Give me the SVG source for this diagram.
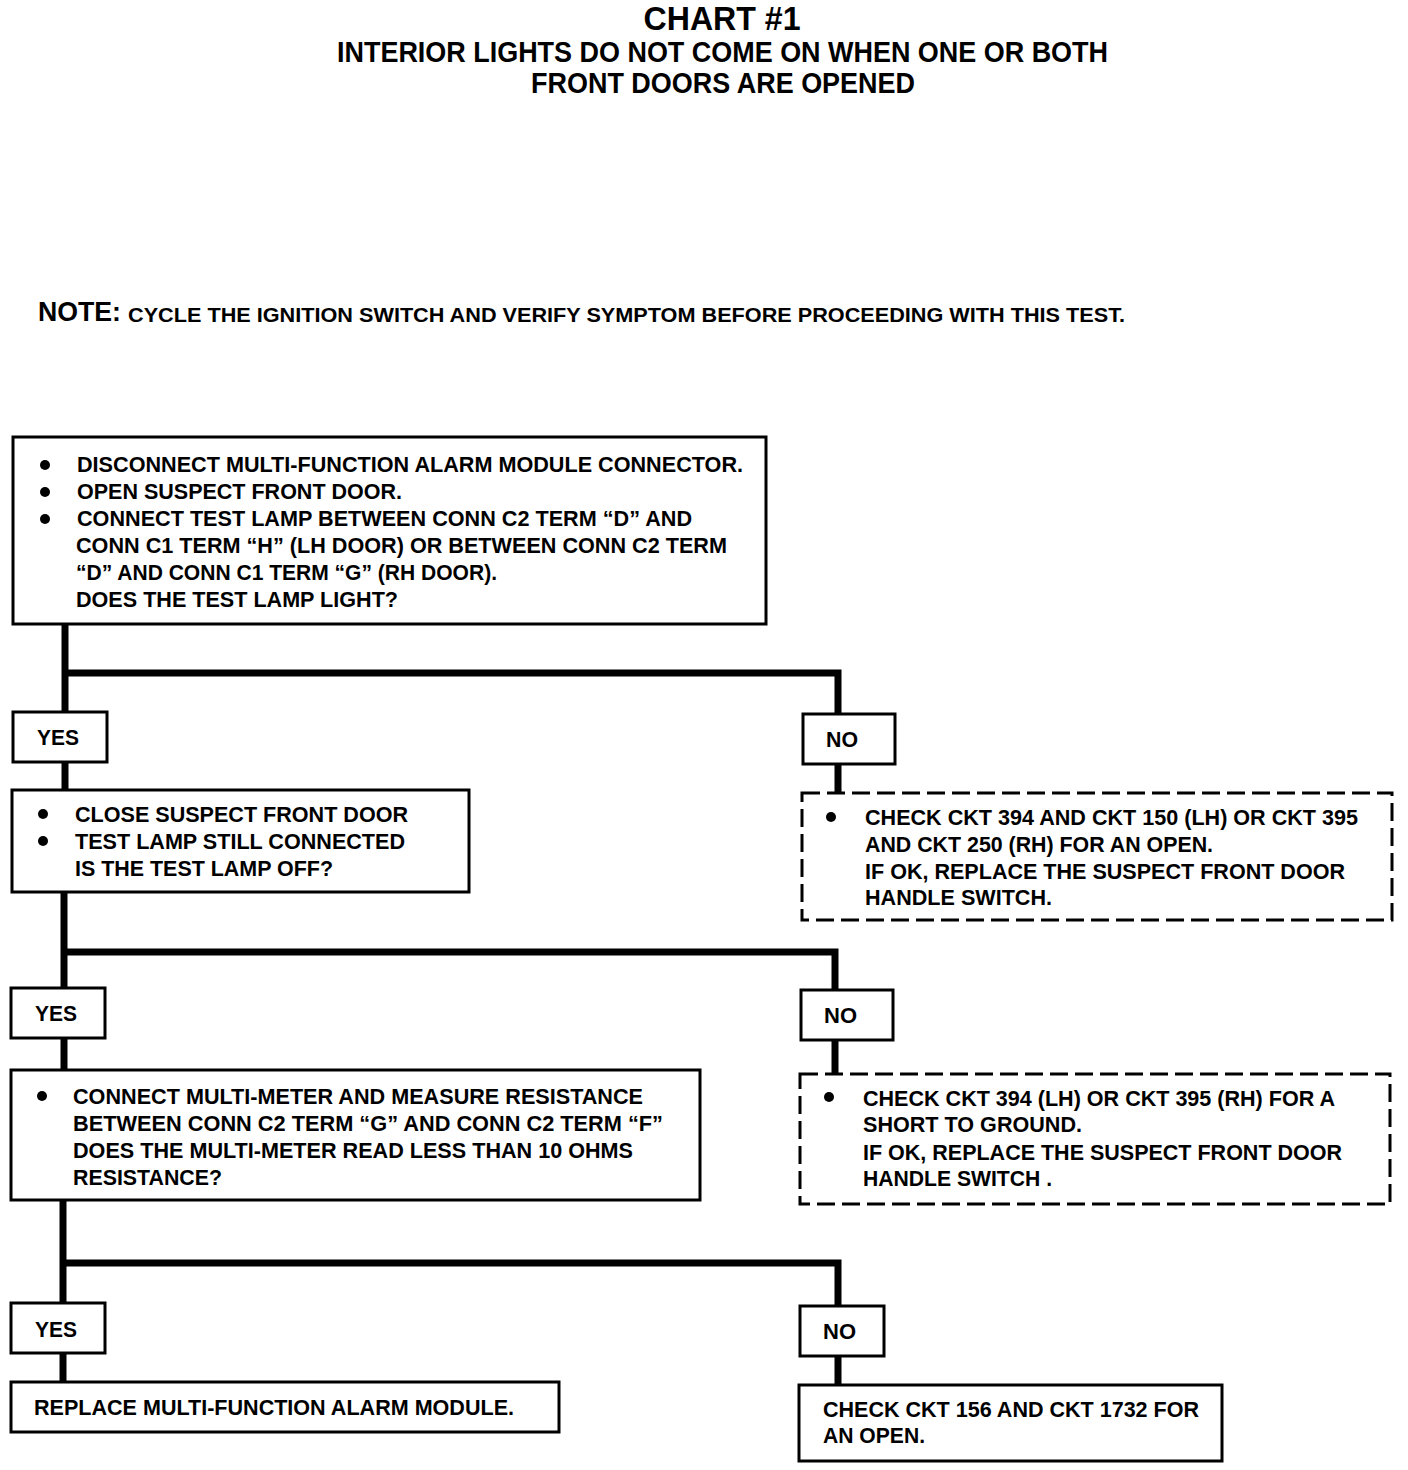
<svg xmlns="http://www.w3.org/2000/svg" width="1408" height="1470" viewBox="0 0 1408 1470">
<style>
text{font-family:"Liberation Sans",Arial,sans-serif;font-weight:bold;fill:#000}
.t{font-size:22px}
.box{fill:#fff;stroke:#000;stroke-width:3}
.dash{fill:#fff;stroke:#000;stroke-width:3;stroke-dasharray:18 7}
.con{fill:none;stroke:#000;stroke-width:7}
.dot{fill:#000}
</style>
<rect width="1408" height="1470" fill="#fff"/>
<g id="title">
<text x="722" y="30" font-size="34" text-anchor="middle" textLength="157" lengthAdjust="spacingAndGlyphs">CHART #1</text>
<text x="337" y="62" font-size="29" textLength="771" lengthAdjust="spacingAndGlyphs">INTERIOR LIGHTS DO NOT COME ON WHEN ONE OR BOTH</text>
<text x="531" y="93" font-size="29" textLength="384" lengthAdjust="spacingAndGlyphs">FRONT DOORS ARE OPENED</text>
</g>
<g id="note">
<text x="38" y="321" font-size="28" textLength="83" lengthAdjust="spacingAndGlyphs">NOTE:</text>
<text x="128" y="322" font-size="21" textLength="997" lengthAdjust="spacingAndGlyphs">CYCLE THE IGNITION SWITCH AND VERIFY SYMPTOM BEFORE PROCEEDING WITH THIS TEST.</text>
</g>
<g id="connectors">
<polyline class="con" points="65,624 65,713"/>
<polyline class="con" points="65,673 838,673 838,714"/>
<polyline class="con" points="65,762 65,790"/>
<polyline class="con" points="838,764 838,793"/>
<polyline class="con" points="64,892 64,988"/>
<polyline class="con" points="64,952 835,952 835,990"/>
<polyline class="con" points="64,1038 64,1070"/>
<polyline class="con" points="835,1040 835,1074"/>
<polyline class="con" points="63,1200 63,1303"/>
<polyline class="con" points="63,1263 838,1263 838,1306"/>
<polyline class="con" points="63,1353 63,1382"/>
<polyline class="con" points="838,1356 838,1385"/>
</g>
<g id="box1">
<rect class="box" x="13" y="437" width="753" height="187"/>
<circle class="dot" cx="45" cy="465" r="5"/>
<circle class="dot" cx="45" cy="492" r="5"/>
<circle class="dot" cx="45" cy="519" r="5"/>
<text class="t" x="77" y="472" textLength="666" lengthAdjust="spacingAndGlyphs">DISCONNECT MULTI-FUNCTION ALARM MODULE CONNECTOR.</text>
<text class="t" x="77" y="499" textLength="325" lengthAdjust="spacingAndGlyphs">OPEN SUSPECT FRONT DOOR.</text>
<text class="t" x="77" y="526" textLength="615" lengthAdjust="spacingAndGlyphs">CONNECT TEST LAMP BETWEEN CONN C2 TERM “D” AND</text>
<text class="t" x="76" y="553" textLength="651" lengthAdjust="spacingAndGlyphs">CONN C1 TERM “H” (LH DOOR) OR BETWEEN CONN C2 TERM</text>
<text class="t" x="76" y="580" textLength="421" lengthAdjust="spacingAndGlyphs">“D” AND CONN C1 TERM “G” (RH DOOR).</text>
<text class="t" x="76" y="607" textLength="322" lengthAdjust="spacingAndGlyphs">DOES THE TEST LAMP LIGHT?</text>
</g>
<g id="yes1">
<rect class="box" x="13" y="712" width="94" height="50"/>
<text class="t" x="37" y="745" textLength="42" lengthAdjust="spacingAndGlyphs">YES</text>
</g>
<g id="no1">
<rect class="box" x="803" y="714" width="92" height="50"/>
<text class="t" x="826" y="747" textLength="32" lengthAdjust="spacingAndGlyphs">NO</text>
</g>
<g id="box2">
<rect class="box" x="12" y="790" width="457" height="102"/>
<circle class="dot" cx="43" cy="814" r="5"/>
<circle class="dot" cx="43" cy="841" r="5"/>
<text class="t" x="75" y="822" textLength="333" lengthAdjust="spacingAndGlyphs">CLOSE SUSPECT FRONT DOOR</text>
<text class="t" x="75" y="849" textLength="330" lengthAdjust="spacingAndGlyphs">TEST LAMP STILL CONNECTED</text>
<text class="t" x="75" y="876" textLength="258" lengthAdjust="spacingAndGlyphs">IS THE TEST LAMP OFF?</text>
</g>
<g id="dash1">
<rect class="dash" x="802" y="793" width="590" height="127"/>
<circle class="dot" cx="831" cy="817" r="5"/>
<text class="t" x="865" y="825" textLength="493" lengthAdjust="spacingAndGlyphs">CHECK CKT 394 AND CKT 150 (LH) OR CKT 395</text>
<text class="t" x="865" y="852" textLength="348" lengthAdjust="spacingAndGlyphs">AND CKT 250 (RH) FOR AN OPEN.</text>
<text class="t" x="865" y="879" textLength="480" lengthAdjust="spacingAndGlyphs">IF OK, REPLACE THE SUSPECT FRONT DOOR</text>
<text class="t" x="865" y="905" textLength="187" lengthAdjust="spacingAndGlyphs">HANDLE SWITCH.</text>
</g>
<g id="yes2">
<rect class="box" x="11" y="988" width="94" height="50"/>
<text class="t" x="35" y="1021" textLength="42" lengthAdjust="spacingAndGlyphs">YES</text>
</g>
<g id="no2">
<rect class="box" x="801" y="990" width="92" height="50"/>
<text class="t" x="824" y="1023" textLength="33" lengthAdjust="spacingAndGlyphs">NO</text>
</g>
<g id="box3">
<rect class="box" x="11" y="1070" width="689" height="130"/>
<circle class="dot" cx="42" cy="1096" r="5"/>
<text class="t" x="73" y="1104" textLength="570" lengthAdjust="spacingAndGlyphs">CONNECT MULTI-METER AND MEASURE RESISTANCE</text>
<text class="t" x="73" y="1131" textLength="590" lengthAdjust="spacingAndGlyphs">BETWEEN CONN C2 TERM “G” AND CONN C2 TERM “F”</text>
<text class="t" x="73" y="1158" textLength="560" lengthAdjust="spacingAndGlyphs">DOES THE MULTI-METER READ LESS THAN 10 OHMS</text>
<text class="t" x="73" y="1185" textLength="149" lengthAdjust="spacingAndGlyphs">RESISTANCE?</text>
</g>
<g id="dash2">
<rect class="dash" x="800" y="1074" width="590" height="130"/>
<circle class="dot" cx="829" cy="1097" r="5"/>
<text class="t" x="863" y="1106" textLength="472" lengthAdjust="spacingAndGlyphs">CHECK CKT 394 (LH) OR CKT 395 (RH) FOR A</text>
<text class="t" x="863" y="1132" textLength="219" lengthAdjust="spacingAndGlyphs">SHORT TO GROUND.</text>
<text class="t" x="863" y="1160" textLength="479" lengthAdjust="spacingAndGlyphs">IF OK, REPLACE THE SUSPECT FRONT DOOR</text>
<text class="t" x="863" y="1186" textLength="189" lengthAdjust="spacingAndGlyphs">HANDLE SWITCH .</text>
</g>
<g id="yes3">
<rect class="box" x="11" y="1303" width="94" height="50"/>
<text class="t" x="35" y="1337" textLength="42" lengthAdjust="spacingAndGlyphs">YES</text>
</g>
<g id="no3">
<rect class="box" x="800" y="1306" width="84" height="50"/>
<text class="t" x="823" y="1339" textLength="33" lengthAdjust="spacingAndGlyphs">NO</text>
</g>
<g id="box4">
<rect class="box" x="11" y="1382" width="548" height="50"/>
<text class="t" x="34" y="1415" textLength="480" lengthAdjust="spacingAndGlyphs">REPLACE MULTI-FUNCTION ALARM MODULE.</text>
</g>
<g id="box5">
<rect class="box" x="799" y="1385" width="423" height="76"/>
<text class="t" x="823" y="1417" textLength="376" lengthAdjust="spacingAndGlyphs">CHECK CKT 156 AND CKT 1732 FOR</text>
<text class="t" x="823" y="1443" textLength="102" lengthAdjust="spacingAndGlyphs">AN OPEN.</text>
</g>
</svg>
